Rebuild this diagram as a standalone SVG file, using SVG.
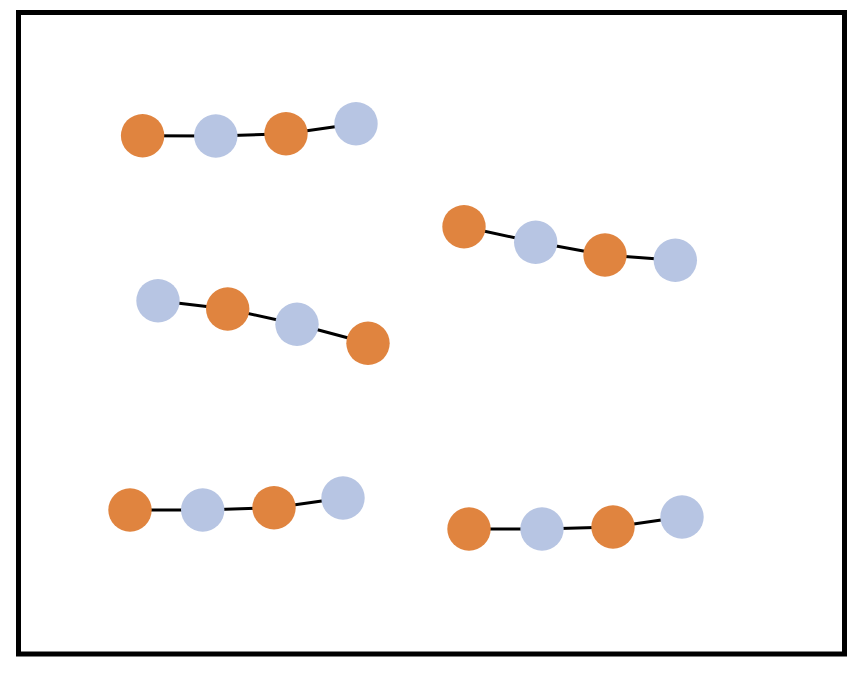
<svg xmlns="http://www.w3.org/2000/svg" width="862" height="674" viewBox="0 0 862 674">
<style>
.o{fill:#E0843F}
.b{fill:#B7C5E3}
.e{stroke:#000;stroke-width:3;fill:none}
</style>
<rect x="0" y="0" width="862" height="674" fill="#fff"/>
<rect x="18.5" y="12.5" width="826" height="641.5" fill="none" stroke="#000" stroke-width="5"/>
<g id="connectors">
<polyline class="e" points="142.6,135.7 215.8,136 286,133.7 356,123.7"/>
<polyline class="e" points="158,300.7 227.7,309 297,324.3 368,343.3"/>
<polyline class="e" points="464,226.7 535.7,242.3 605,255 675.3,260.3"/>
<polyline class="e" points="130,510 202.7,510 274,507.7 343,498"/>
<polyline class="e" points="469,529 542,529 613,527 682,517"/>
</g>
<g id="n1"><circle class="o" cx="142.6" cy="135.7" r="21.7"/></g>
<g id="n2"><circle class="b" cx="215.8" cy="136" r="21.7"/></g>
<g id="n3"><circle class="o" cx="286" cy="133.7" r="21.7"/></g>
<g id="n4"><circle class="b" cx="356" cy="123.7" r="21.7"/></g>
<g id="n5"><circle class="b" cx="158" cy="300.7" r="21.7"/></g>
<g id="n6"><circle class="o" cx="227.7" cy="309" r="21.7"/></g>
<g id="n7"><circle class="b" cx="297" cy="324.3" r="21.7"/></g>
<g id="n8"><circle class="o" cx="368" cy="343.3" r="21.7"/></g>
<g id="n9"><circle class="o" cx="464" cy="226.7" r="21.7"/></g>
<g id="n10"><circle class="b" cx="535.7" cy="242.3" r="21.7"/></g>
<g id="n11"><circle class="o" cx="605" cy="255" r="21.7"/></g>
<g id="n12"><circle class="b" cx="675.3" cy="260.3" r="21.7"/></g>
<g id="n13"><circle class="o" cx="130" cy="510" r="21.7"/></g>
<g id="n14"><circle class="b" cx="202.7" cy="510" r="21.7"/></g>
<g id="n15"><circle class="o" cx="274" cy="507.7" r="21.7"/></g>
<g id="n16"><circle class="b" cx="343" cy="498" r="21.7"/></g>
<g id="n17"><circle class="o" cx="469" cy="529" r="21.7"/></g>
<g id="n18"><circle class="b" cx="542" cy="529" r="21.7"/></g>
<g id="n19"><circle class="o" cx="613" cy="527" r="21.7"/></g>
<g id="n20"><circle class="b" cx="682" cy="517" r="21.7"/></g>
</svg>
